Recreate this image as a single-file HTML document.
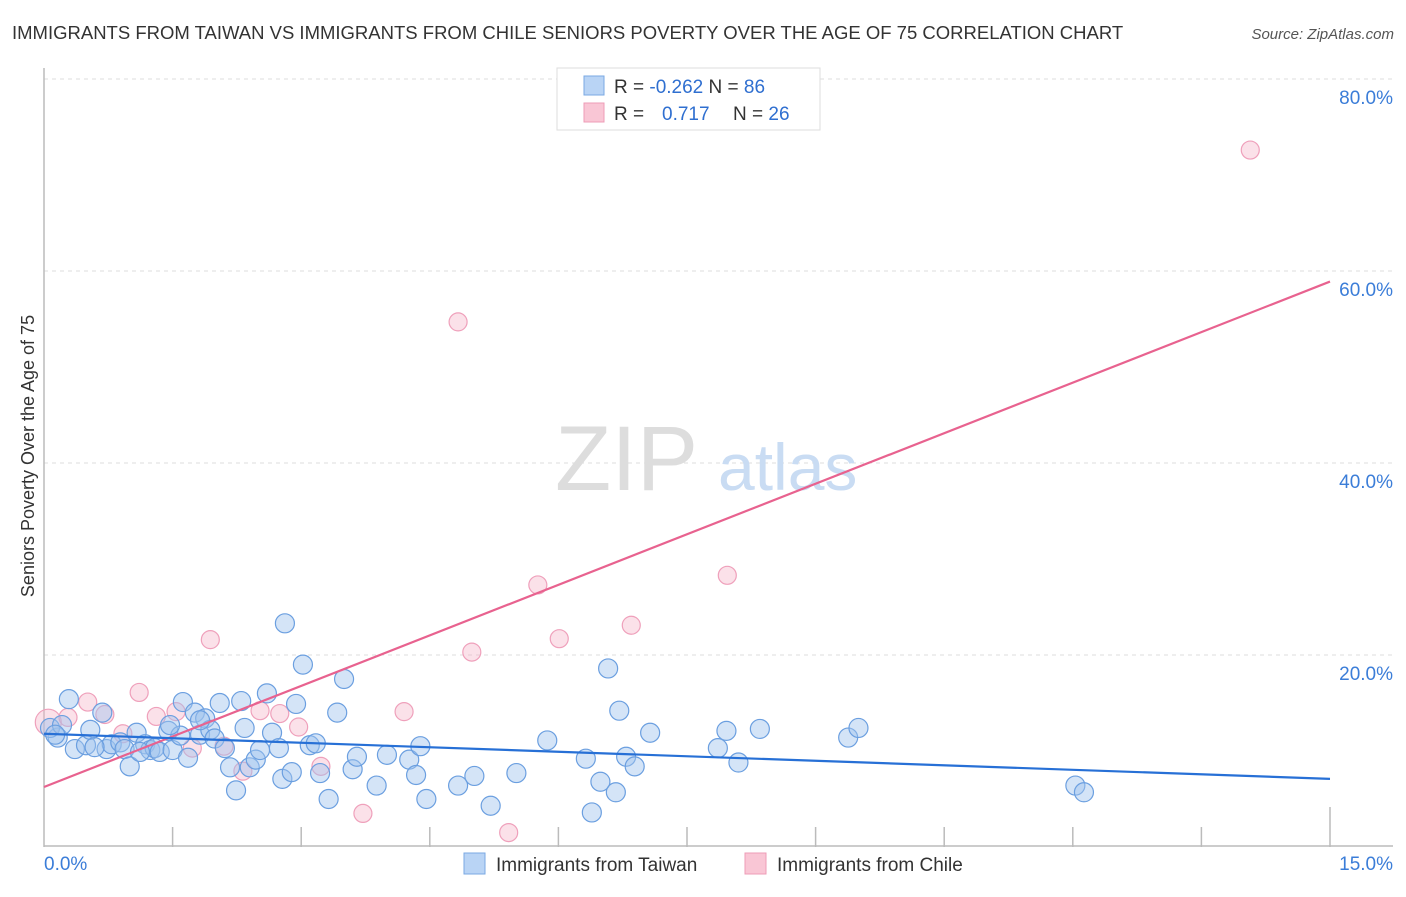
<!DOCTYPE html>
<html><head><meta charset="utf-8"><style>
body{margin:0;background:#fff;font-family:"Liberation Sans",sans-serif;}
svg text{font-family:"Liberation Sans",sans-serif;}
</style></head><body>
<svg id="chart" width="1406" height="892" xmlns="http://www.w3.org/2000/svg">
<text x="12" y="39" font-size="18.5" fill="#333">IMMIGRANTS FROM TAIWAN VS IMMIGRANTS FROM CHILE SENIORS POVERTY OVER THE AGE OF 75 CORRELATION CHART</text>
<text x="1394" y="39" font-size="15" fill="#555" text-anchor="end" font-style="italic">Source: ZipAtlas.com</text>
<g id="grid"></g>
<text x="555" y="490" font-size="92" fill="#ddd" font-family="Liberation Serif">ZIP</text>
<text x="718" y="490" font-size="66" fill="#c9dcf3">atlas</text>
<g id="axes"></g>
<g id="marks"></g>
<text transform="translate(34,456) rotate(-90)" font-size="18" fill="#333" text-anchor="middle">Seniors Poverty Over the Age of 75</text>
<g>
<rect x="557" y="68" width="263" height="62" fill="#fff" stroke="#ddd"/>
<rect x="584" y="76" width="20" height="19" fill="#b9d4f5" stroke="#7aa8e3"/>
<rect x="584" y="103" width="20" height="19" fill="#f9c6d5" stroke="#ee9cb7"/>
<text x="614" y="93" font-size="19" fill="#333">R = <tspan fill="#2f6fd0">-0.262</tspan>   N = <tspan fill="#2f6fd0">86</tspan></text>
<text x="614" y="120" font-size="19" fill="#333">R =   <tspan fill="#2f6fd0" x="662">0.717</tspan><tspan x="733">N = </tspan><tspan fill="#2f6fd0">26</tspan></text>
</g>
<g>
<rect x="464" y="853" width="21" height="21" fill="#b9d4f5" stroke="#7aa8e3"/>
<text x="496" y="871" font-size="19" fill="#333">Immigrants from Taiwan</text>
<rect x="745" y="853" width="21" height="21" fill="#f9c6d5" stroke="#ee9cb7"/>
<text x="777" y="871" font-size="19" fill="#333">Immigrants from Chile</text>
</g>
</svg>
<script>
const yTicks=[20,40,60,80];
const yTickLabels=["20.0%","40.0%","60.0%","80.0%"];
const xTicks=[0,1.5,3,4.5,6,7.5,9,10.5,12,13.5,15];
const xTickLabels=["0.0%","15.0%"];
const taiwanX=[0.29,0.16,0.07,0.21,0.36,0.49,0.54,0.68,0.73,0.79,0.89,0.94,1.00,1.08,1.18,1.24,1.29,1.35,1.45,1.50,1.59,1.62,1.68,1.76,1.82,1.88,1.94,1.99,2.05,2.11,2.17,2.24,2.30,2.34,2.40,2.47,2.52,2.60,2.66,2.74,2.78,2.81,2.89,2.94,3.02,3.10,3.17,3.22,3.32,3.42,3.50,3.60,3.65,3.88,4.00,4.26,4.34,4.39,4.46,4.83,5.02,5.21,5.51,5.87,6.32,6.39,6.49,6.58,6.67,6.71,6.79,6.89,7.07,7.86,7.96,8.10,8.35,9.38,9.50,12.03,12.13,1.82,1.47,0.59,1.12,0.13];
const taiwanY=[15.4,11.4,12.4,12.7,10.2,10.6,12.2,14.0,10.2,10.7,10.9,10.2,8.4,11.9,10.7,10.1,10.3,9.9,12.1,10.1,11.6,15.1,9.3,14.0,11.7,13.4,12.2,11.3,15.0,10.3,8.3,5.9,15.2,12.4,8.3,9.1,10.1,16.0,11.9,10.3,7.1,23.3,7.8,14.9,19.0,10.6,10.8,7.7,5.0,14.0,17.5,8.1,9.4,6.4,9.6,9.1,7.5,10.5,5.0,6.4,7.4,4.3,7.7,11.1,9.2,3.6,6.8,18.6,5.7,14.2,9.4,8.4,11.9,10.3,12.1,8.8,12.3,11.4,12.4,6.4,5.7,13.2,12.7,10.4,9.9,11.7];
const chileX=[0.05,0.28,0.51,0.71,0.92,1.11,1.31,1.54,1.73,1.94,2.10,2.32,2.52,2.75,2.97,3.23,3.72,4.20,4.83,4.99,5.42,5.76,6.01,6.85,7.97,14.07];
const chileY=[13.0,13.5,15.1,13.8,11.8,16.1,13.6,14.1,10.3,21.6,10.5,7.9,14.2,13.9,12.5,8.4,3.5,14.1,54.7,20.3,1.5,27.3,21.7,23.1,28.3,72.6];
const taiwanTrend=[11.8,7.1];
const chileTrend=[6.25,58.9];
const trendX=[0,15];

const NS="http://www.w3.org/2000/svg";
const X0=44,X1=1330,Y0=847,PXPERY=9.6;
function sx(v){return X0+(X1-X0)*v/15;}
function sy(v){return Y0-v*PXPERY;}
function mk(tag,attrs,parent){const e=document.createElementNS(NS,tag);for(const k in attrs)e.setAttribute(k,attrs[k]);parent.appendChild(e);return e;}
const grid=document.getElementById('grid'),axes=document.getElementById('axes'),marks=document.getElementById('marks');
yTicks.forEach((t,i)=>{
  const l=mk('line',{x1:X0,x2:1393,y1:sy(t),y2:sy(t),stroke:'#ddd','stroke-dasharray':'4,4'},grid);
  
  
  const tx=mk('text',{x:1393,y:sy(t)+25,'font-size':19,fill:'#3b7dd8','text-anchor':'end'},grid);
  tx.textContent=yTickLabels[i];
  
  
});
let a=mk('line',{x1:X0,x2:X0,y1:68,y2:Y0,stroke:'#bbb','stroke-width':1.5},axes);


a=mk('line',{x1:X0,x2:1393,y1:Y0-1,y2:Y0-1,stroke:'#bbb','stroke-width':1.5},axes);


xTicks.forEach((t,i)=>{
  if(i===0)return;
  const l=mk('line',{x1:sx(t),x2:sx(t),y1:(i===xTicks.length-1)?Y0-40:Y0-20,y2:Y0,stroke:'#bbb','stroke-width':1.5},axes);
  
  
});
let t0=mk('text',{x:X0,y:870,'font-size':19,fill:'#3b7dd8'},axes);t0.textContent=xTickLabels[0];


let t1=mk('text',{x:1393,y:870,'font-size':19,fill:'#3b7dd8','text-anchor':'end'},axes);t1.textContent=xTickLabels[1];


chileX.forEach((v,i)=>{
  const c=mk('circle',{cx:sx(v),cy:sy(chileY[i]),r:i===0?13:9,fill:'rgba(246,180,200,0.4)',stroke:'#efa0bb','stroke-width':1.2},marks);
  
  
});
taiwanX.forEach((v,i)=>{
  const c=mk('circle',{cx:sx(v),cy:sy(taiwanY[i]),r:9.5,fill:'rgba(160,196,238,0.45)',stroke:'#6b9fe0','stroke-width':1.2},marks);
  
  
});
let tl=mk('line',{x1:sx(trendX[0]),x2:sx(trendX[1]),y1:sy(chileTrend[0]),y2:sy(chileTrend[1]),stroke:'#e8628f','stroke-width':2.2},marks);


tl=mk('line',{x1:sx(trendX[0]),x2:sx(trendX[1]),y1:sy(taiwanTrend[0]),y2:sy(taiwanTrend[1]),stroke:'#2770d6','stroke-width':2.2},marks);


</script>
</body></html>
